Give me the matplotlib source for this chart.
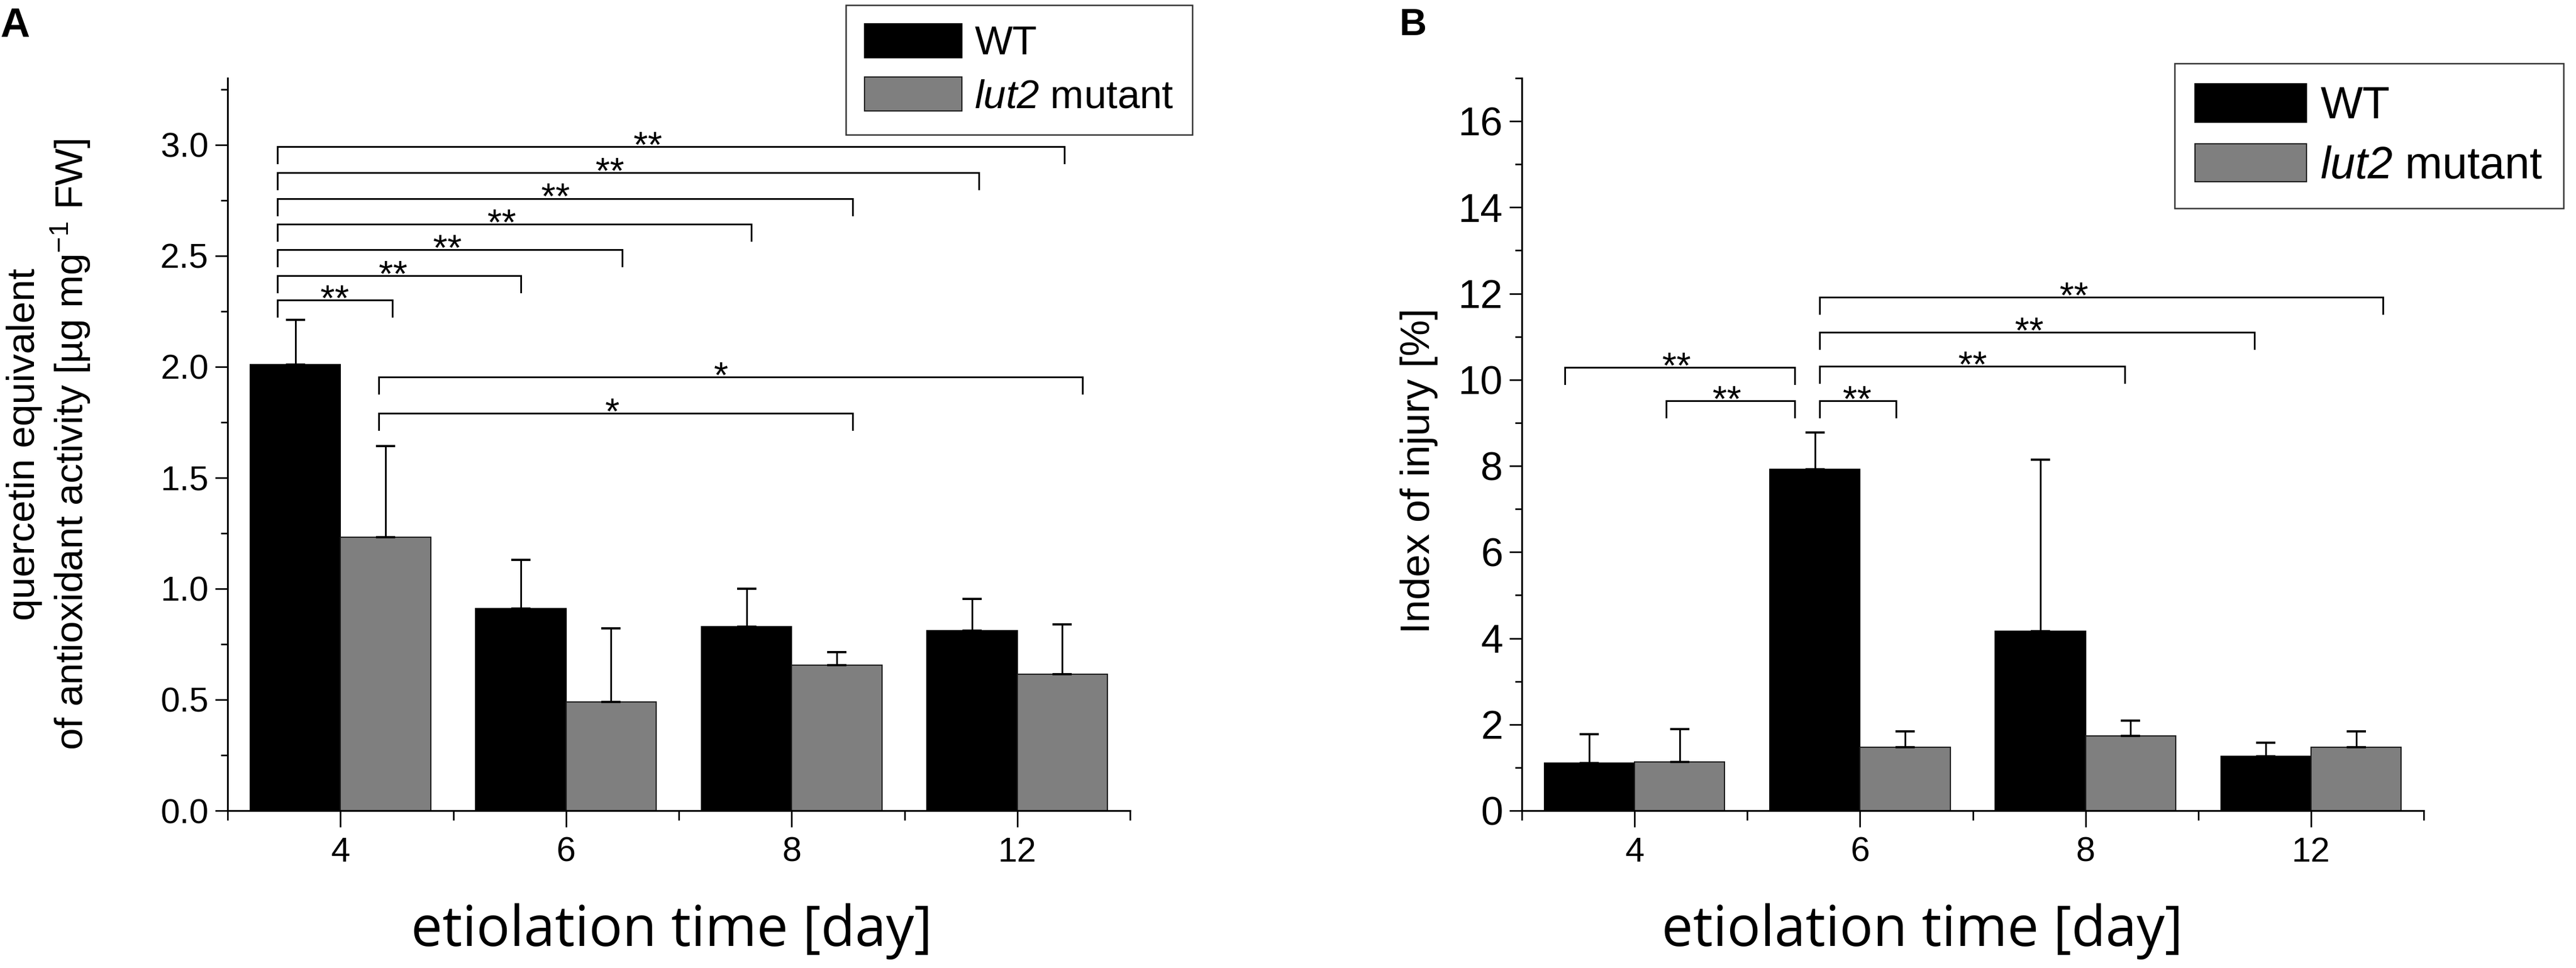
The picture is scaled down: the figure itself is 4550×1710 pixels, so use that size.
import numpy as np
import matplotlib
matplotlib.use('Agg')
import matplotlib.pyplot as plt
from matplotlib.ticker import MultipleLocator, FixedLocator, FormatStrFormatter

plt.rcParams['font.family'] = ['Liberation Sans', 'DejaVu Sans']
plt.rcParams['mathtext.fontset'] = 'custom'
plt.rcParams['mathtext.rm'] = 'Liberation Sans'
plt.rcParams['mathtext.it'] = 'Liberation Sans:italic'
# italic face used for the gene name, digits included
plt.rcParams['mathtext.sf'] = 'Liberation Sans:italic'

days = ['4', '6', '8', '12']
series = ['WT', r'$\mathsf{lut2}$ mutant']

# Panel A: antioxidant activity
wt_activity = [2.01, 0.91, 0.83, 0.81]
wt_activity_err = [0.20, 0.22, 0.17, 0.145]
mut_activity = [1.232, 0.49, 0.655, 0.615]
mut_activity_err = [0.41, 0.33, 0.06, 0.225]

# significance brackets for A (x in category units)
sig_a_left = [-0.28, -0.28, -0.28, -0.28, -0.28, -0.28, -0.28, 0.17, 0.17]
sig_a_right = [0.23, 0.80, 1.25, 1.82, 2.27, 2.83, 3.21, 2.27, 3.29]
sig_a_y = [2.30, 2.41, 2.527, 2.643, 2.758, 2.875, 2.992, 1.79, 1.954]
sig_a_text_x = [-0.026, 0.234, 0.475, 0.716, 0.954, 1.195, 1.363, 1.206, 1.688]
sig_a_text = ['**', '**', '**', '**', '**', '**', '**', '*', '*']

# Panel B: index of injury
wt_injury = [1.10, 7.92, 4.17, 1.26]
wt_injury_err = [0.67, 0.85, 3.98, 0.31]
mut_injury = [1.13, 1.47, 1.74, 1.47]
mut_injury_err = [0.76, 0.37, 0.35, 0.37]

sig_b_left = [-0.31, 0.14, 0.82, 0.82, 0.82, 0.82]
sig_b_right = [0.71, 0.71, 1.16, 2.175, 2.75, 3.32]
sig_b_y = [10.29, 9.51, 9.51, 10.31, 11.10, 11.92]
sig_b_text_x = [0.185, 0.41, 0.986, 1.50, 1.75, 1.95]
sig_b_text = ['**', '**', '**', '**', '**', '**']

W, H = 4550, 1710
fig = plt.figure(figsize=(W / 100, H / 100), dpi=100)

ax_a = fig.add_axes([402 / W, 1 - 1432 / H, 1594 / W, 1294 / H])
ax_b = fig.add_axes([2688 / W, 1 - 1432 / H, 1593 / W, 1294 / H])

x = np.arange(len(days))
bw = 0.40


def draw_panel(ax, wt, wt_err, mut, mut_err, ylim, major, minor, ytick_size):
    err_kw = dict(elinewidth=2.2, capthick=2.8, ecolor='black')
    b1 = ax.bar(x - bw / 2, wt, bw, color='black', edgecolor='black', linewidth=1.5,
                yerr=[np.zeros(len(wt)), wt_err], capsize=12, error_kw=err_kw)
    b2 = ax.bar(x + bw / 2, mut, bw, color='#7f7f7f', edgecolor='#1a1a1a', linewidth=1.5,
                yerr=[np.zeros(len(mut)), mut_err], capsize=12, error_kw=err_kw)
    ax.set_xlim(-0.5, 3.5)
    ax.set_ylim(*ylim)
    ax.set_xticks(x)
    ax.set_xticklabels(days)
    ax.xaxis.set_minor_locator(FixedLocator([-0.5, 0.5, 1.5, 2.5, 3.5]))
    ax.yaxis.set_major_locator(MultipleLocator(major))
    ax.yaxis.set_minor_locator(MultipleLocator(minor))
    for s in ['top', 'right']:
        ax.spines[s].set_visible(False)
    for s in ['left', 'bottom']:
        ax.spines[s].set_linewidth(2.3)
    ax.tick_params(axis='x', which='major', direction='out', length=21, width=2.0,
                   labelsize=44, pad=12)
    ax.tick_params(axis='x', which='minor', direction='out', length=12, width=2.0)
    ax.tick_params(axis='y', which='major', direction='out', length=16, width=2.0,
                   labelsize=ytick_size, pad=8)
    ax.tick_params(axis='y', which='minor', direction='out', length=9, width=2.0)
    return b1, b2


def draw_brackets(ax, left, right, ys, tx, texts, drop):
    for l, r, y, t, s in zip(left, right, ys, tx, texts):
        ax.plot([l, l, r, r], [y - drop, y, y, y - drop], color='black', lw=2.2,
                solid_joinstyle='miter', clip_on=False)
        ax.annotate(s, (t, y), xytext=(0, -13), textcoords='offset points',
                    ha='center', va='baseline', fontsize=47)


def add_legend(ax, handles, anchor, size, hlen):
    leg = ax.legend(handles, series, loc='upper left',
                    bbox_to_anchor=anchor, bbox_transform=fig.transFigure,
                    fontsize=size, frameon=True, fancybox=False, edgecolor='#333333',
                    framealpha=1, handlelength=hlen, handleheight=0.93,
                    handletextpad=0.31, borderpad=0.46, labelspacing=0.35,
                    borderaxespad=0)
    leg.get_frame().set_linewidth(1.8)
    return leg


# Panel A
b1, b2 = draw_panel(ax_a, wt_activity, wt_activity_err, mut_activity, mut_activity_err,
                    (0, 3.3), 0.5, 0.25, 44)
ax_a.yaxis.set_major_formatter(FormatStrFormatter('%.1f'))
draw_brackets(ax_a, sig_a_left, sig_a_right, sig_a_y, sig_a_text_x, sig_a_text, 0.074)
ax_a.set_ylabel('quercetin equivalent\nof antioxidant activity [µg mg$^{-1}$ FW]', fontsize=50)
ax_a.yaxis.set_label_coords(-0.150, 0.5)
ax_a.set_xlabel('etiolation time [day]', fontsize=71, family=['Open Sans', 'DejaVu Sans'])
ax_a.xaxis.set_label_coords(0.492, -0.126)
add_legend(ax_a, [b1, b2], (1494 / W, 1 - 9 / H), 51, 2.44)

# Panel B
c1, c2 = draw_panel(ax_b, wt_injury, wt_injury_err, mut_injury, mut_injury_err,
                    (0, 17), 2, 1, 51)
draw_brackets(ax_b, sig_b_left, sig_b_right, sig_b_y, sig_b_text_x, sig_b_text, 0.38)
ax_b.set_ylabel('Index of injury [%]', fontsize=52)
ax_b.yaxis.set_label_coords(-0.093, 0.464)
ax_b.set_xlabel('etiolation time [day]', fontsize=71, family=['Open Sans', 'DejaVu Sans'])
ax_b.xaxis.set_label_coords(0.444, -0.126)
add_legend(ax_b, [c1, c2], (3841 / W, 1 - 112 / H), 57, 2.48)

fig.text(0 / W, 1 - 12 / H, 'A', fontsize=52, fontweight='bold', va='top', ha='left')
fig.text(2472 / W, 1 - 14 / H, 'B', fontsize=48, fontweight='bold', va='top', ha='left')

fig.savefig('out.png', dpi=100)
